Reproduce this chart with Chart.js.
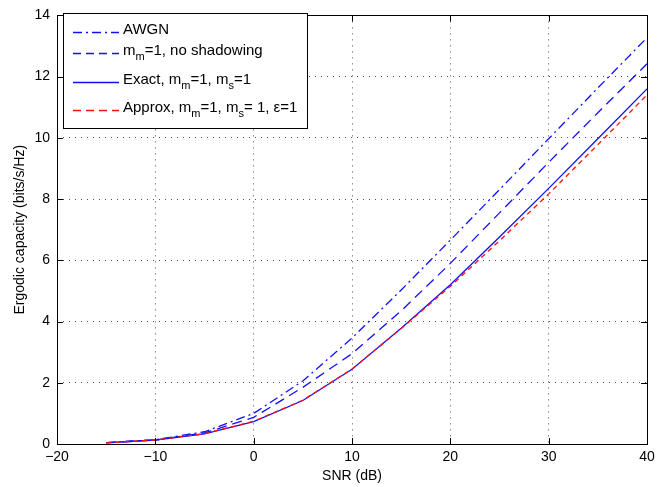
<!DOCTYPE html>
<html>
<head>
<meta charset="utf-8">
<script src="https://cdn.jsdelivr.net/npm/chart.js@4.4.1/dist/chart.umd.min.js"></script>
<style>
  html, body { margin: 0; padding: 0; background: #fff; }
  #wrap { width: 669px; height: 487px; }
</style>
</head>
<body>
<div id="wrap"><canvas id="capChart" width="669" height="487"></canvas></div>
<script>
// SNR points (dB)
const snrDb = [-15, -10, -5, 0, 5, 10, 15, 20, 25, 30, 35, 40];

// capacity curves (bits/s/Hz)
const awgnCap     = [0.045, 0.14, 0.40, 1.00, 2.06, 3.46, 5.03, 6.66, 8.31, 9.97, 11.63, 13.27];
const noShadowCap = [0.044, 0.13, 0.36, 0.87, 1.85, 2.95, 4.35, 5.90, 7.55, 9.20, 10.82, 12.42];
const exactCap    = [0.04, 0.13, 0.33, 0.73, 1.42, 2.44, 3.78, 5.20, 6.76, 8.35, 9.97, 11.60];
const approxCap   = [0.04, 0.13, 0.34, 0.74, 1.43, 2.45, 3.77, 5.15, 6.64, 8.17, 9.78, 11.40];

// legend labels, _{..} = subscript
const seriesLabels = [
  'AWGN',
  'm_{m}=1, no shadowing',
  'Exact, m_{m}=1, m_{s}=1',
  'Approx, m_{m}=1, m_{s}= 1, \u03b5=1'
];

const xTicks = [-20, -10, 0, 10, 20, 30, 40];
const yTicks = [0, 2, 4, 6, 8, 10, 12, 14];

const FONT = '"Liberation Sans", Arial, Helvetica, sans-serif';

function toPts(vals) {
  return snrDb.map((x, i) => ({ x: x, y: vals[i] }));
}

const styles = [
  { color: '#1010ff', dash: [9, 4, 2, 4], legendDash: [9, 4, 2, 4] },
  { color: '#1010ff', dash: [10, 6], legendDash: [8, 5] },
  { color: '#1010ff', dash: [], legendDash: [] },
  { color: '#ff1010', dash: [5, 4], legendDash: [8, 5] }
];

const curves = [awgnCap, noShadowCap, exactCap, approxCap];
const drawOrder = [3, 2, 1, 0]; // red approx on top

const datasets = curves.map((c, i) => ({
  label: seriesLabels[i],
  data: toPts(c),
  borderColor: styles[i].color,
  borderWidth: 1.3,
  borderDash: styles[i].dash,
  pointRadius: 0,
  tension: 0,
  fill: false,
  order: drawOrder[i]
}));

// draw text with subscripts
function drawRich(ctx, str, x, y) {
  const parts = str.split(/(_\{[^}]*\})/);
  let cx = x;
  parts.forEach(p => {
    if (!p) return;
    if (p.startsWith('_{')) {
      const t = p.slice(2, -1);
      ctx.font = '11px ' + FONT;
      ctx.fillText(t, cx, y + 6);
      cx += ctx.measureText(t).width;
    } else {
      ctx.font = '15px ' + FONT;
      ctx.fillText(p, cx, y);
      cx += ctx.measureText(p).width;
    }
  });
}

// inward ticks, box and custom legend (matlab look)
const matlabFrame = {
  id: 'matlabFrame',
  afterDatasetsDraw(chart) {
    const ctx = chart.ctx;
    const a = chart.chartArea;
    const xs = chart.scales.x, ys = chart.scales.y;
    ctx.save();
    ctx.strokeStyle = '#000';
    ctx.lineWidth = 1;
    ctx.setLineDash([]);
    ctx.beginPath();
    xTicks.forEach(v => {
      const px = Math.round(xs.getPixelForValue(v)) + 0.5;
      ctx.moveTo(px, a.bottom); ctx.lineTo(px, a.bottom - 6);
      ctx.moveTo(px, a.top); ctx.lineTo(px, a.top + 6);
    });
    yTicks.forEach(v => {
      const py = Math.round(ys.getPixelForValue(v)) + 0.5;
      ctx.moveTo(a.left, py); ctx.lineTo(a.left + 6, py);
      ctx.moveTo(a.right, py); ctx.lineTo(a.right - 6, py);
    });
    ctx.stroke();
    ctx.strokeRect(Math.round(a.left) + 0.5, Math.round(a.top) + 0.5,
                   Math.round(a.right - a.left), Math.round(a.bottom - a.top));

    // legend box
    const lx = 63, ly = 13, lw = 244, lh = 115;
    ctx.fillStyle = '#fff';
    ctx.fillRect(lx, ly, lw, lh);
    ctx.strokeRect(lx + 0.5, ly + 0.5, lw, lh);
    const rows = [32, 53, 82, 110];
    ctx.textBaseline = 'middle';
    ctx.textAlign = 'left';
    seriesLabels.forEach((lab, i) => {
      ctx.strokeStyle = styles[i].color;
      ctx.lineWidth = 1.3;
      ctx.setLineDash(styles[i].legendDash);
      ctx.beginPath();
      ctx.moveTo(73, rows[i] + 0.5);
      ctx.lineTo(119, rows[i] + 0.5);
      ctx.stroke();
      ctx.setLineDash([]);
      ctx.fillStyle = '#000';
      drawRich(ctx, lab, 123, rows[i] - 2);
    });
    ctx.restore();
  }
};

const gridStyle = {
  color: 'rgba(0,0,0,0.7)',
  lineWidth: 1,
  drawTicks: false
};

const config = {
  type: 'line',
  data: { datasets: datasets },
  options: {
    responsive: false,
    animation: false,
    layout: { padding: { top: 10, right: 22, left: 0, bottom: 0 } },
    plugins: {
      legend: { display: false },
      tooltip: { enabled: false }
    },
    scales: {
      x: {
        type: 'linear',
        min: -20,
        max: 40,
        afterBuildTicks: s => { s.ticks = xTicks.map(v => ({ value: v })); },
        afterFit: s => { s.height = 43; },
        border: { display: false, dash: [1, 5] },
        grid: gridStyle,
        ticks: {
          padding: 5,
          color: '#000',
          font: { family: FONT, size: 14 },
          callback: v => String(v).replace('-', '\u2212')
        },
        title: {
          display: true,
          text: 'SNR (dB)',
          color: '#000',
          font: { family: FONT, size: 14 },
          padding: { top: 0, bottom: 2 }
        }
      },
      y: {
        type: 'linear',
        min: 0,
        max: 14,
        afterBuildTicks: s => { s.ticks = yTicks.map(v => ({ value: v })); },
        afterFit: s => { s.width = 57; },
        border: { display: false, dash: [1, 5] },
        grid: gridStyle,
        ticks: {
          padding: 7,
          color: '#000',
          font: { family: FONT, size: 14 }
        },
        title: {
          display: true,
          text: 'Ergodic capacity (bits/s/Hz)',
          color: '#000',
          font: { family: FONT, size: 14 },
          padding: { top: 12, bottom: 0 }
        }
      }
    }
  },
  plugins: [matlabFrame]
};

const ctx = document.getElementById('capChart');
const capChart = new Chart(ctx, config);
</script>
</body>
</html>
